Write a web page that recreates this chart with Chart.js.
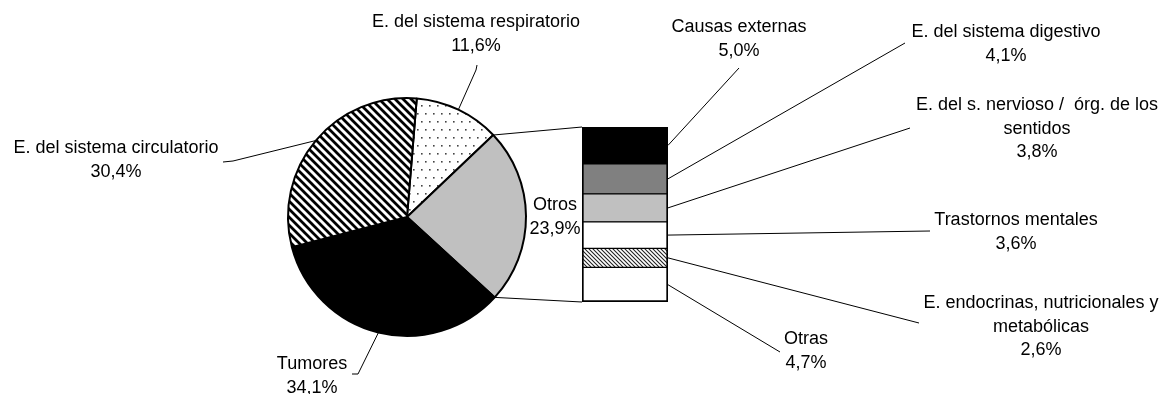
<!DOCTYPE html>
<html>
<head>
<meta charset="utf-8">
<script src="https://cdn.jsdelivr.net/npm/chart.js@4.4.1/dist/chart.umd.min.js"></script>
<style>
  body { margin: 0; background: #fff; }
  #wrap { position: relative; width: 1171px; height: 394px; }
  #wrap canvas { position: absolute; left: 0; top: 0; }
</style>
</head>
<body>
<div id="wrap">
  <canvas id="pieChart" width="1171" height="394"></canvas>
  <canvas id="barChart" width="1171" height="394"></canvas>
</div>
<script>
// main pie, clockwise from the top
const pieLabels = [
  ["E. del sistema respiratorio"],
  ["Otros"],
  ["Tumores"],
  ["E. del sistema circulatorio"],
];
const pieValues = [11.6, 23.9, 34.1, 30.4];

// breakdown of "Otros", from the top of the bar down
const barLabels = [
  ["Causas externas"],
  ["E. del sistema digestivo"],
  ["E. del s. nervioso /  órg. de los", "sentidos"],
  ["Trastornos mentales"],
  ["E. endocrinas, nutricionales y", "metabólicas"],
  ["Otras"],
];
const barValues = [5.0, 4.1, 3.8, 3.6, 2.6, 4.7];

// where the labels sit (centre x, first baseline) and the elbow of each leader line
const pieLabelPos = [
  { x: 476, y: 27, line: [[477, 65], [476, 70]] },
  { x: 555, y: 210, line: null },
  { x: 312, y: 369, line: [[352, 374], [358, 374]] },
  { x: 116, y: 153, line: [[223, 162], [233, 161]] },
];
const barLabelPos = [
  { x: 739, y: 32, line: [[739, 68]] },
  { x: 1006, y: 37, line: [[905, 43]] },
  { x: 1037, y: 110, line: [[910, 128]] },
  { x: 1016, y: 225, line: [[930, 231]] },
  { x: 1041, y: 308, line: [[919, 323]] },
  { x: 806, y: 344, line: [[780, 352]] },
];

const FONT = '18px "Liberation Sans", Arial, sans-serif';
const LINE_GAP = 23.5;

const fmt = (v) => v.toFixed(1).replace(".", ",") + "%";

function makePattern(w, h, draw) {
  const c = document.createElement("canvas");
  c.width = w;
  c.height = h;
  const g = c.getContext("2d");
  g.fillStyle = "#fff";
  g.fillRect(0, 0, w, h);
  draw(g);
  return g.createPattern(c, "repeat");
}

function diagonal(size, width, color) {
  return makePattern(size, size, (g) => {
    g.strokeStyle = color;
    g.lineWidth = width;
    g.beginPath();
    for (let k = -1; k <= 1; k++) {
      g.moveTo(k * size - 1, -1);
      g.lineTo(k * size + size + 1, size + 1);
    }
    g.stroke();
  });
}

const stripes = diagonal(8, 2.8, "#000");
const hatch = diagonal(4, 1.1, "#222");
const dots = makePattern(8, 16, (g) => {
  g.fillStyle = "#444";
  g.fillRect(1, 1, 1.6, 1.6);
  g.fillRect(5, 9, 1.6, 1.6);
});

const pieFills = [dots, "#C0C0C0", "#000000", stripes];
const barFills = ["#000000", "#808080", "#C0C0C0", "#FFFFFF", hatch, "#FFFFFF"];

function drawText(ctx, lines, pos) {
  ctx.fillStyle = "#000";
  ctx.font = FONT;
  ctx.textAlign = "center";
  ctx.textBaseline = "alphabetic";
  lines.forEach((t, i) => ctx.fillText(t, pos.x, pos.y + i * LINE_GAP));
}

function drawLeader(ctx, pts) {
  ctx.strokeStyle = "#000";
  ctx.lineWidth = 1;
  ctx.beginPath();
  ctx.moveTo(pts[0][0], pts[0][1]);
  pts.slice(1).forEach((p) => ctx.lineTo(p[0], p[1]));
  ctx.stroke();
}

const pieLabelsPlugin = {
  id: "pieLabels",
  afterDraw(chart) {
    const ctx = chart.ctx;
    ctx.save();
    chart.getDatasetMeta(0).data.forEach((arc, i) => {
      const pos = pieLabelPos[i];
      drawText(ctx, pieLabels[i].concat(fmt(pieValues[i])), pos);
      if (pos.line) {
        const a = (arc.startAngle + arc.endAngle) / 2;
        const edge = [arc.x + Math.cos(a) * arc.outerRadius, arc.y + Math.sin(a) * arc.outerRadius];
        drawLeader(ctx, pos.line.concat([edge]));
      }
    });
    ctx.restore();
  },
};

const pieChart = new Chart(document.getElementById("pieChart"), {
  type: "pie",
  data: {
    labels: pieLabels,
    datasets: [
      {
        data: pieValues,
        backgroundColor: pieFills,
        borderColor: "#000",
        borderWidth: 2,
      },
    ],
  },
  options: {
    responsive: false,
    animation: false,
    rotation: 4.7,
    layout: { padding: { left: 287, top: 97, right: 644, bottom: 57 } },
    plugins: { legend: { display: false }, tooltip: { enabled: false } },
  },
  plugins: [pieLabelsPlugin],
});

const n = barValues.length;
const barTotal = barValues.reduce((s, v) => s + v, 0);
// dataset j is stacked from the bottom, so it holds barLabels[n - 1 - j]
const barEl = (chart, i) => chart.getDatasetMeta(n - 1 - i).data[0];

const barLabelsPlugin = {
  id: "barLabels",
  afterDraw(chart) {
    const ctx = chart.ctx;
    ctx.save();
    // lines joining the "Otros" slice to the bar
    const arc = pieChart.getDatasetMeta(0).data[1];
    const top = barEl(chart, 0);
    const bottom = barEl(chart, n - 1);
    const left = top.x - top.width / 2;
    drawLeader(ctx, [
      [arc.x + Math.cos(arc.startAngle) * arc.outerRadius, arc.y + Math.sin(arc.startAngle) * arc.outerRadius],
      [left, top.y],
    ]);
    drawLeader(ctx, [
      [arc.x + Math.cos(arc.endAngle) * arc.outerRadius, arc.y + Math.sin(arc.endAngle) * arc.outerRadius],
      [left, bottom.base],
    ]);
    barLabels.forEach((lab, i) => {
      const el = barEl(chart, i);
      const pos = barLabelPos[i];
      drawText(ctx, lab.concat(fmt(barValues[i])), pos);
      drawLeader(ctx, pos.line.concat([[el.x + el.width / 2, (el.y + el.base) / 2]]));
    });
    ctx.restore();
  },
};

new Chart(document.getElementById("barChart"), {
  type: "bar",
  data: {
    labels: ["Otros"],
    datasets: barValues
      .map((v, i) => ({
        label: barLabels[i].join(" "),
        data: [v],
        backgroundColor: barFills[i],
        borderColor: "#000",
        borderWidth: { left: 2, right: 2, top: i === 0 ? 2 : 1, bottom: i === n - 1 ? 2 : 1 },
        borderSkipped: false,
        barPercentage: 1,
        categoryPercentage: 1,
      }))
      .reverse(),
  },
  options: {
    responsive: false,
    animation: false,
    layout: { padding: { left: 582, right: 503, top: 127, bottom: 92 } },
    scales: {
      x: { display: false, stacked: true },
      y: { display: false, stacked: true, min: 0, max: barTotal },
    },
    plugins: { legend: { display: false }, tooltip: { enabled: false } },
  },
  plugins: [barLabelsPlugin],
});
</script>
</body>
</html>
